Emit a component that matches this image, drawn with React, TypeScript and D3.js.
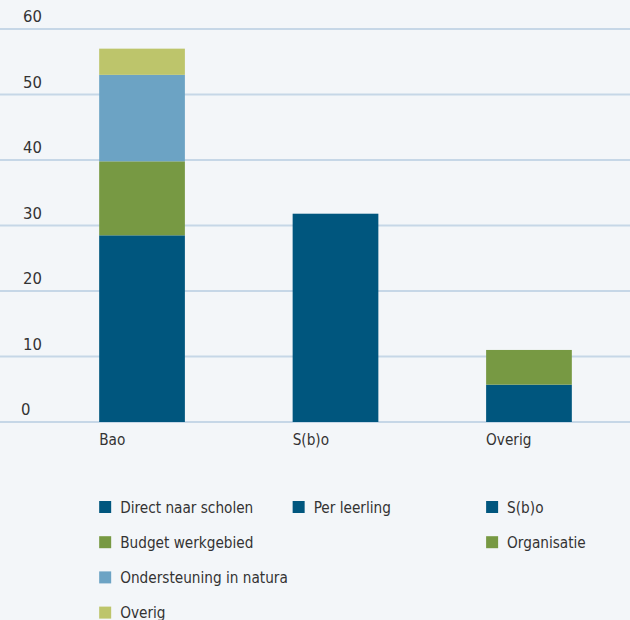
import React from "react";
import * as d3 from "d3";

const categories = ["Bao", "S(b)o", "Overig"];
const seriesNames = [
  "Direct naar scholen",
  "Budget werkgebied",
  "Ondersteuning in natura",
  "Overig",
  "Per leerling",
  "S(b)o",
  "Organisatie",
];
const seriesValues: number[][] = [
  [28.5, 0, 0],
  [11.3, 0, 0],
  [13.2, 0, 0],
  [4.0, 0, 0],
  [0, 31.8, 0],
  [0, 0, 5.7],
  [0, 0, 5.3],
];
const seriesColors = ["#00567e", "#779943", "#6ca3c4", "#bdc56b", "#00567e", "#00567e", "#779943"];
const yTicks = [0, 10, 20, 30, 40, 50, 60];
// legend layout: [column, row] for each series
const legendSlots: [number, number][] = [
  [0, 0], [0, 1], [0, 2], [0, 3], [1, 0], [2, 0], [2, 1],
];

const W = 630;
const H = 620;
const FONT = "'Liberation Sans Narrow', 'DejaVu Sans Condensed', 'Roboto', sans-serif";

export default function App() {
  const x = d3.scaleBand<string>().domain(categories).range([45, 626]).paddingInner(0.557).paddingOuter(0.28);
  const y = d3.scaleLinear().domain([0, 60]).range([422, 29]);

  const table = categories.map((c, i) => {
    const row: any = { cat: c };
    seriesNames.forEach((s, j) => (row[s] = seriesValues[j][i]));
    return row;
  });
  const stacked = d3.stack<any>().keys(seriesNames)(table);

  const colX = categories.map((c) => x(c) as number);

  return (
    <svg
      width={W}
      height={H}
      style={{ position: "absolute", left: 0, top: 0, background: "#f3f6f9", fontFamily: FONT }}
    >
      <rect x={0} y={0} width={W} height={H} fill="#f3f6f9" />
      {yTicks.map((t) => (
        <g key={t}>
          <line x1={0} x2={W} y1={y(t)} y2={y(t)} stroke="#c6d7e7" strokeWidth={2} />
          <text x={t === 0 ? 21 : 23} y={y(t) - 7} fontSize={16.5} fill="#333">
            {t}
          </text>
        </g>
      ))}
      {stacked.map((layer, j) =>
        layer.map((d, i) =>
          d[1] - d[0] > 0 ? (
            <rect
              key={`${j}-${i}`}
              x={x(categories[i])}
              width={x.bandwidth()}
              y={y(d[1])}
              height={y(d[0]) - y(d[1])}
              fill={seriesColors[j]}
            />
          ) : null
        )
      )}
      {categories.map((c) => (
        <text key={c} x={x(c)} y={445} fontSize={15.2} fill="#333">
          {c}
        </text>
      ))}
      {seriesNames.map((s, j) => {
        const [col, row] = legendSlots[j];
        const lx = colX[col];
        const ly = 507 + row * 35.2;
        return (
          <g key={s}>
            <rect x={lx} y={ly - 6} width={12} height={12} fill={seriesColors[j]} />
            <text x={lx + 21} y={ly + 5.5} fontSize={15.2} fill="#333">
              {s}
            </text>
          </g>
        );
      })}
    </svg>
  );
}
